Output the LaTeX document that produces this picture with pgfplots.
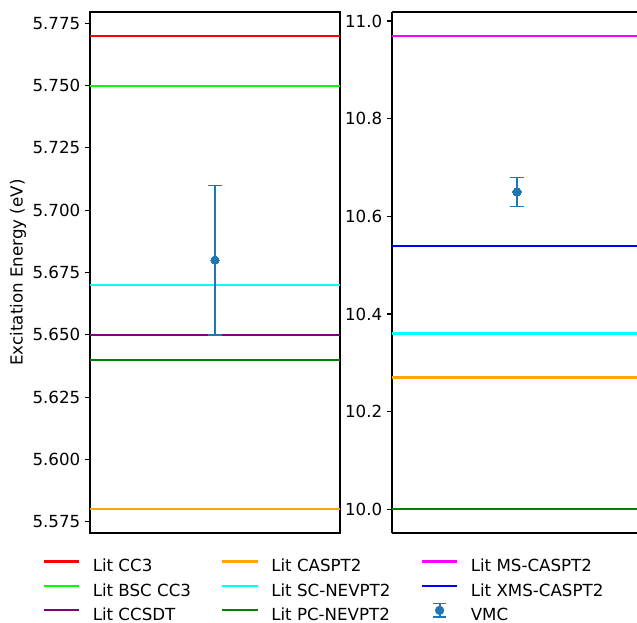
\documentclass[border=0pt]{standalone}
\usepackage{pgfplots}
\pgfplotsset{compat=1.18}
\usepackage{fontspec}
\setmainfont{DejaVu Sans}
\definecolor{tabblue}{HTML}{1F77B4}
\definecolor{mplred}{rgb}{1,0,0}
\definecolor{mpllime}{rgb}{0,1,0}
\definecolor{mplcyan}{rgb}{0,1,1}
\definecolor{mplmagenta}{rgb}{1,0,1}
\definecolor{mplblue}{rgb}{0,0,1}
\definecolor{mplpurple}{rgb}{0.5,0,0.5}
\definecolor{mplorange}{rgb}{1,0.647,0}
\definecolor{mplgreen}{rgb}{0,0.5,0}
\pgfplotsset{
  panel/.style={
    scale only axis, width=180pt, height=375.1pt,
    xmin=0, xmax=1, xtick=\empty,
    ytick pos=left,
    tick align=outside, major tick length=3.5pt,
    ytick style={line width=0.8pt, black},
    axis line style={line width=0.8pt, black},
    /pgf/number format/assume math mode=true,
    tick label style={font=\fontsize{12}{14}\selectfont},
    clip=false,
  },
  hl/.style={line width=1.5pt, #1},
  vmc/.style={tabblue, line width=1.5pt, mark=*, mark size=3pt, mark options={fill=tabblue, draw=tabblue, line width=0pt},
    error bars/.cd, y dir=both, y explicit,
    error bar style={line width=1.5pt, tabblue},
    error mark options={rotate=90, mark size=4.8pt, line width=1pt, tabblue}},
}
\begin{document}
\begin{tikzpicture}
\path[use as bounding box] (0,0) rectangle (458.64pt,448.56pt);
\begin{axis}[panel, at={(64.8pt,64.8pt)}, anchor=south west,
  ymin=5.5705, ymax=5.7795,
  ytick={5.575,5.600,5.625,5.650,5.675,5.700,5.725,5.750,5.775},
  yticklabel style={/pgf/number format/.cd, fixed, fixed zerofill, precision=3},
  ylabel={Excitation Energy (eV)},
  ylabel style={at={(axis description cs:-0.288,0.5)}, anchor=center, font=\fontsize{12}{14}\selectfont},
  legend columns=3,
  legend cell align=left,
  legend style={draw=none, fill=none, inner sep=0pt, outer sep=0pt,
    at={(axis description cs:-0.189,-0.0505)}, anchor=north west,
    row sep=5.6pt,
    nodes={inner sep=0pt, text height=9pt, text depth=3pt, font=\fontsize{12}{14}\selectfont},
    /tikz/every odd column/.append style={column sep=8.9pt},
    /tikz/every even column/.append style={column sep=21.8pt}},
  legend image code/.code={\draw[#1] (0pt,4.4pt) -- (25.6pt,4.4pt);},
]
\addplot[forget plot, hl=mplred] coordinates {(0,5.77) (1,5.77)};
\addplot[forget plot, hl=mpllime] coordinates {(0,5.75) (1,5.75)};
\addplot[forget plot, hl=mplcyan] coordinates {(0,5.67) (1,5.67)};
\addplot[forget plot, hl=mplpurple] coordinates {(0,5.65) (1,5.65)};
\addplot[forget plot, hl=mplgreen] coordinates {(0,5.64) (1,5.64)};
\addplot[forget plot, hl=mplorange] coordinates {(0,5.58) (1,5.58)};
\addplot[forget plot, vmc] coordinates {(0.5,5.68) +- (0,0.03)};
% legend, row-wise
\addlegendimage{hl=mplred}\addlegendentry{Lit CC3}
\addlegendimage{hl=mplorange}\addlegendentry{Lit CASPT2}
\addlegendimage{hl=mplmagenta}\addlegendentry{Lit MS-CASPT2}
\addlegendimage{hl=mpllime}\addlegendentry{Lit BSC CC3}
\addlegendimage{hl=mplcyan}\addlegendentry{Lit SC-NEVPT2}
\addlegendimage{hl=mplblue}\addlegendentry{Lit XMS-CASPT2}
\addlegendimage{hl=mplpurple}\addlegendentry{Lit CCSDT}
\addlegendimage{hl=mplgreen}\addlegendentry{Lit PC-NEVPT2}
\addlegendimage{legend image code/.code={
  \path[draw=none] (0pt,4.4pt) -- (25.6pt,4.4pt);
  \pgfinterruptboundingbox
  \draw[tabblue, line width=1.5pt] (12.8pt,-0.4pt) -- (12.8pt,9.2pt);
  \draw[tabblue, line width=1pt] (8.3pt,9.2pt) -- (17.3pt,9.2pt);
  \draw[tabblue, line width=1pt] (8.3pt,-0.4pt) -- (17.3pt,-0.4pt);
  \fill[tabblue] (12.8pt,4.4pt) circle (3.1pt);
  \endpgfinterruptboundingbox}}
\addlegendentry{VMC}
\end{axis}
\begin{axis}[panel, at={(282.24pt,64.8pt)}, anchor=south west,
  ymin=9.9515, ymax=11.0185,
  ytick={10.0,10.2,10.4,10.6,10.8,11.0},
  yticklabel style={/pgf/number format/.cd, fixed, fixed zerofill, precision=1},
  axis y line*=left,
]
\addplot[hl=mplmagenta] coordinates {(0,10.97) (1,10.97)};
\addplot[hl=mplblue] coordinates {(0,10.54) (1,10.54)};
\addplot[hl=mplcyan] coordinates {(0,10.36) (1,10.36)};
\addplot[hl=mplorange] coordinates {(0,10.27) (1,10.27)};
\addplot[hl=mplgreen] coordinates {(0,10.0) (1,10.0)};
\addplot[vmc] coordinates {(0.5,10.65) +- (0,0.03)};
\end{axis}
\end{tikzpicture}
\end{document}
